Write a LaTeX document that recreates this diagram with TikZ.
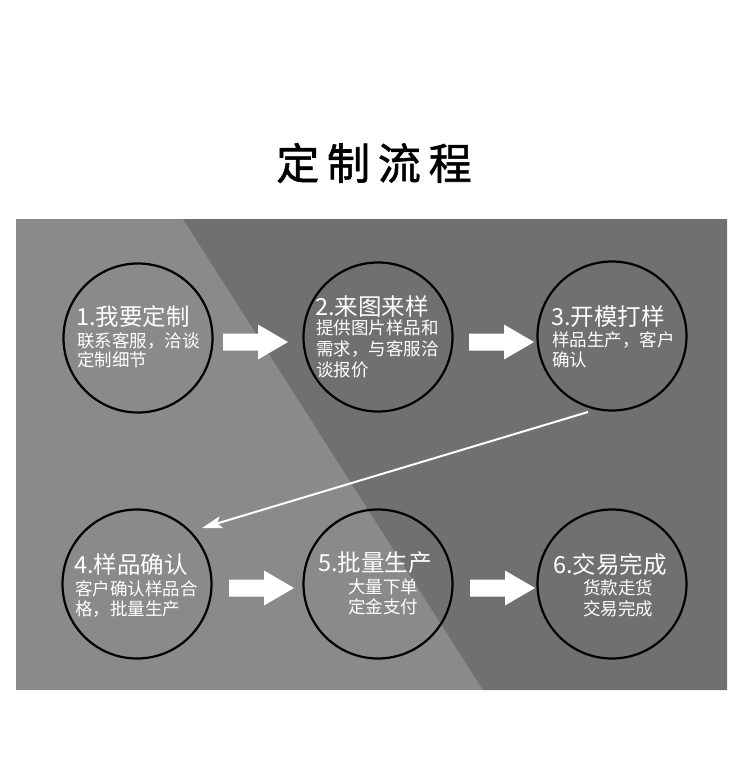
\documentclass[tikz,border=0pt]{standalone}
\usepackage{fontspec}
\setmainfont{Noto Sans CJK SC}
\newfontfamily\titlefont[FakeBold=1.4]{Noto Sans CJK SC}
\usetikzlibrary{arrows.meta}
\definecolor{lightbg}{RGB}{138,138,138}
\definecolor{darkbg}{RGB}{112,112,112}
\tikzset{
  stepcircle/.style={circle, draw=black, line width=2.2pt, minimum size=149pt, inner sep=0pt},
  headtxt/.style={text=white, inner sep=0pt, anchor=west, font=\fontsize{23.5}{28}\selectfont},
  bodytxt/.style={text=white, inner sep=0pt, anchor=west, font=\fontsize{17.5}{20}\selectfont},
  thinarrow/.style={draw=white, line width=2pt, -{Stealth[length=20pt,width=12pt,inset=4pt]}},
  blockarrow/.style={fill=white}
}
\newcommand{\blkarrow}[1]{\fill[blockarrow,shift={(#1)}] (0,-8.5) -- (35,-8.5) -- (35,-17.5) -- (65,0) -- (35,17.5) -- (35,8.5) -- (0,8.5) -- cycle;}
\begin{document}
\begin{tikzpicture}[x=1pt,y=-1pt]
\useasboundingbox (0,0) rectangle (750,763);
\fill[white] (0,0) rectangle (750,763);
% background panels
\fill[lightbg] (16,219) rectangle (727,690);
\fill[darkbg] (183,219) -- (727,219) -- (727,690) -- (483,690) -- cycle;
% title
\node[inner sep=0pt, font=\fontsize{43}{50}\selectfont\titlefont] (title) at (374,163) {定\hspace{7.8pt}制\hspace{7.8pt}流\hspace{7.8pt}程};
% circles
\node[stepcircle] (c1) at (138,338) {};
\node[stepcircle] (c2) at (378,337) {};
\node[stepcircle] (c3) at (612,336) {};
\node[stepcircle] (c4) at (137,584) {};
\node[stepcircle] (c5) at (378,584) {};
\node[stepcircle] (c6) at (612,584) {};
% texts
\node[headtxt] (t1) at (76,317) {1.我要定制};
\node[bodytxt] (t1a) at (77,341) {联系客服，洽谈};
\node[bodytxt] (t1b) at (77,360) {定制细节};
\node[headtxt] (t2) at (315,307) {2.来图来样};
\node[bodytxt] (t2a) at (316,328) {提供图片样品和};
\node[bodytxt] (t2b) at (316,349) {需求，与客服洽};
\node[bodytxt] (t2c) at (316,370) {谈报价};
\node[headtxt] (t3) at (551,317) {3.开模打样};
\node[bodytxt] (t3a) at (552,340) {样品生产，客户};
\node[bodytxt] (t3b) at (552,360) {确认};
\node[headtxt] (t4) at (74,565) {4.样品确认};
\node[bodytxt] (t4a) at (75,589) {客户确认样品合};
\node[bodytxt] (t4b) at (75,609) {格，批量生产};
\node[headtxt] (t5) at (318,563) {5.批量生产};
\node[bodytxt] (t5a) at (348,587) {大量下单};
\node[bodytxt] (t5b) at (348,607) {定金支付};
\node[headtxt] (t6) at (553,565) {6.交易完成};
\node[bodytxt] (t6a) at (583,588) {货款走货};
\node[bodytxt] (t6b) at (583,609) {交易完成};
% block arrows
\coordinate (a12) at (223,342);
\coordinate (a23) at (469,342);
\coordinate (a45) at (229,588);
\coordinate (a56) at (470,588);
\blkarrow{a12}
\blkarrow{a23}
\blkarrow{a45}
\blkarrow{a56}
% diagonal arrow
\coordinate (d1) at (588,412);
\coordinate (d2) at (202,528);
\draw[thinarrow] (d1) -- (d2);
\end{tikzpicture}
\end{document}
